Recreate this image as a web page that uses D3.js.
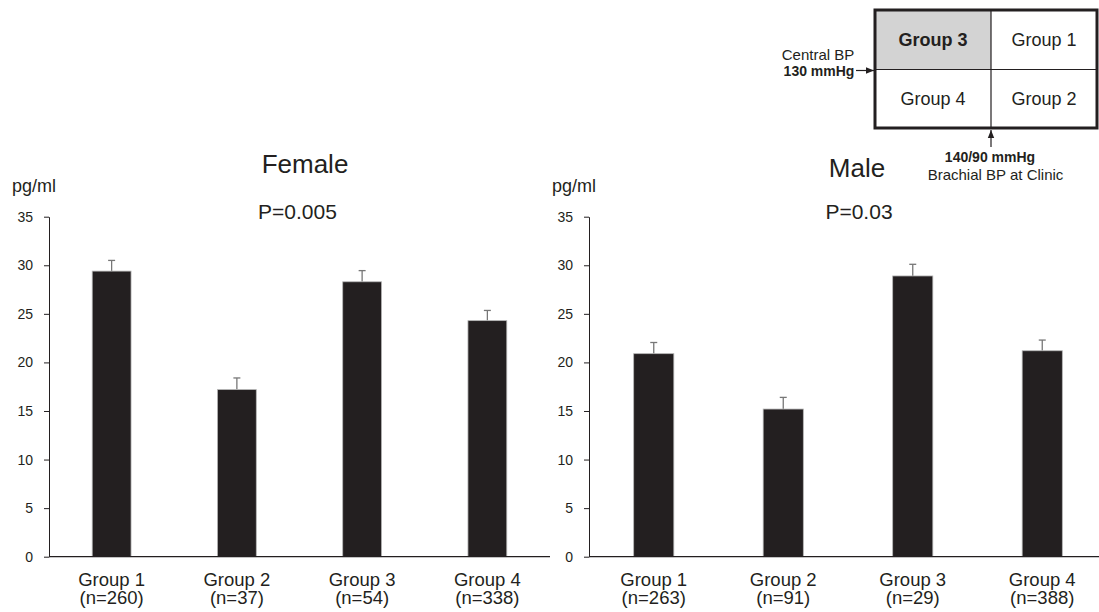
<html>
<head>
	<script src="https://d3js.org/d3.v7.min.js"></script>
	<style>
		body{ margin: 0; background: #fff; }
		text{ font-family: "Liberation Sans", Arial, sans-serif; fill: #231f20; }
		.axis path, .axis line{ stroke: #231f20; }
		.axis text{ font-size: 14px; }
	</style>
</head>
<body>
	<script>

var width = 1099,
	height = 612;

// data
var groups = ["Group 1", "Group 2", "Group 3", "Group 4"];
var femaleN = [260, 37, 54, 338];
var femaleMean = [29.4, 17.2, 28.3, 24.3];
var femaleErr = [1.1, 1.2, 1.15, 1.05];
var maleN = [263, 91, 29, 388];
var maleMean = [20.9, 15.2, 28.9, 21.2];
var maleErr = [1.15, 1.2, 1.2, 1.1];
var yTicks = [0, 5, 10, 15, 20, 25, 30, 35];
var gridLabels = [["Group 3", "Group 1"], ["Group 4", "Group 2"]];

var svg = d3.select( "body" )
	.append( "svg" )
	.attr( "width", width )
	.attr( "height", height );

var y = d3.scaleLinear()
	.domain( [0, 35] )
	.range( [556.7, 216.7] );

function panel(opt){
	var g = svg.append( "g" );
	var x = d3.scaleBand()
		.domain( groups )
		.range( [opt.x0, opt.x1] )
		.paddingInner( 0.69 )
		.paddingOuter( 0.345 );

	var rows = groups.map(function(d, i){
		return {group: d, n: opt.n[i], mean: opt.mean[i], err: opt.err[i]};
	});

	// y axis
	g.append( "g" )
		.attr( "class", "axis" )
		.attr( "transform", "translate(" + opt.x0 + ",0)" )
		.call( d3.axisLeft(y).tickValues(yTicks).tickSize(5).tickSizeOuter(0).tickPadding(11) )
		.call(function(a){ a.selectAll("text").attr("fill", "#231f20"); });

	// error bars
	rows.forEach(function(d){
		var cx = x(d.group) + x.bandwidth() / 2;
		g.append( "line" )
			.attr( "x1", cx ).attr( "x2", cx )
			.attr( "y1", y(d.mean) ).attr( "y2", y(d.mean + d.err) )
			.attr( "stroke", "#777" ).attr( "stroke-width", 1.3 );
		g.append( "line" )
			.attr( "x1", cx - 3.5 ).attr( "x2", cx + 3.5 )
			.attr( "y1", y(d.mean + d.err) ).attr( "y2", y(d.mean + d.err) )
			.attr( "stroke", "#777" ).attr( "stroke-width", 1.3 );
	});

	// bars
	g.selectAll( "rect" )
		.data( rows )
		.enter()
		.append( "rect" )
		.attr( "x", function(d){ return x(d.group); } )
		.attr( "y", function(d){ return y(d.mean); } )
		.attr( "width", x.bandwidth() )
		.attr( "height", function(d){ return y(0) - y(d.mean); } )
		.attr( "fill", "#231f20" )
		.attr( "stroke", "#b5b5b5" )
		.attr( "stroke-width", 0.8 );

	// x axis line
	g.append( "line" )
		.attr( "x1", opt.x0 ).attr( "x2", opt.x1 )
		.attr( "y1", y(0) ).attr( "y2", y(0) )
		.attr( "stroke", "#231f20" ).attr( "stroke-width", 1.2 );

	// category labels
	var lab = g.selectAll( ".cat" )
		.data( rows )
		.enter()
		.append( "text" )
		.attr( "class", "cat" )
		.attr( "text-anchor", "middle" )
		.style( "font-size", "18.5px" );
	lab.append( "tspan" )
		.attr( "x", function(d){ return x(d.group) + x.bandwidth() / 2; } )
		.attr( "y", 585.5 )
		.text( function(d){ return d.group; } );
	lab.append( "tspan" )
		.attr( "x", function(d){ return x(d.group) + x.bandwidth() / 2; } )
		.attr( "y", 603.5 )
		.text( function(d){ return "(n=" + d.n + ")"; } );

	g.append( "text" )
		.attr( "x", opt.x0 - 37 ).attr( "y", 192 )
		.style( "font-size", "18px" )
		.text( "pg/ml" );
	g.append( "text" )
		.attr( "x", opt.titleX ).attr( "y", opt.titleY )
		.attr( "text-anchor", "middle" )
		.style( "font-size", "26px" )
		.text( opt.title );
	g.append( "text" )
		.attr( "x", opt.pX ).attr( "y", 218.5 )
		.attr( "text-anchor", "middle" )
		.style( "font-size", "21px" )
		.text( opt.p );
}

panel({x0: 49, x1: 550, n: femaleN, mean: femaleMean, err: femaleErr,
	title: "Female", titleX: 305, titleY: 173, p: "P=0.005", pX: 297.5});
panel({x0: 589, x1: 1107, n: maleN, mean: maleMean, err: maleErr,
	title: "Male", titleX: 857, titleY: 176.5, p: "P=0.03", pX: 859});

// classification grid, top right
var grid = svg.append( "g" );
var gx = d3.scaleLinear().domain( [0, 2] ).range( [875, 1097] ),
	gy = d3.scaleLinear().domain( [0, 2] ).range( [10, 128] );
var midX = 991, midY = 69.5;
var colX = [875, midX, 1097], rowY = [10, midY, 128];

grid.append( "rect" )
	.attr( "x", colX[0] ).attr( "y", rowY[0] )
	.attr( "width", colX[1] - colX[0] ).attr( "height", rowY[1] - rowY[0] )
	.attr( "fill", "#d3d3d3" );

gridLabels.forEach(function(row, r){
	row.forEach(function(label, c){
		grid.append( "text" )
			.attr( "x", (colX[c] + colX[c + 1]) / 2 )
			.attr( "y", (rowY[r] + rowY[r + 1]) / 2 + 6.5 )
			.attr( "text-anchor", "middle" )
			.style( "font-size", "18px" )
			.style( "font-weight", r === 0 && c === 0 ? "bold" : "normal" )
			.text( label );
	});
});

grid.append( "line" )
	.attr( "x1", midX ).attr( "x2", midX ).attr( "y1", rowY[0] ).attr( "y2", rowY[2] )
	.attr( "stroke", "#231f20" ).attr( "stroke-width", 1.2 );
grid.append( "line" )
	.attr( "x1", colX[0] ).attr( "x2", colX[2] ).attr( "y1", midY ).attr( "y2", midY )
	.attr( "stroke", "#231f20" ).attr( "stroke-width", 1.2 );
grid.append( "rect" )
	.attr( "x", colX[0] ).attr( "y", rowY[0] )
	.attr( "width", colX[2] - colX[0] ).attr( "height", rowY[2] - rowY[0] )
	.attr( "fill", "none" ).attr( "stroke", "#231f20" ).attr( "stroke-width", 3 );

// arrows
svg.append( "defs" ).append( "marker" )
	.attr( "id", "arr" )
	.attr( "viewBox", "0 0 10 10" )
	.attr( "refX", 10 ).attr( "refY", 5 )
	.attr( "markerWidth", 7 ).attr( "markerHeight", 7 )
	.attr( "orient", "auto" )
	.append( "path" )
	.attr( "d", "M0,1L10,5L0,9z" )
	.attr( "fill", "#231f20" );

grid.append( "line" )
	.attr( "x1", 856 ).attr( "x2", 874 ).attr( "y1", 70.5 ).attr( "y2", 70.5 )
	.attr( "stroke", "#231f20" ).attr( "stroke-width", 1.2 )
	.attr( "marker-end", "url(#arr)" );
grid.append( "line" )
	.attr( "x1", midX ).attr( "x2", midX ).attr( "y1", 147 ).attr( "y2", 130 )
	.attr( "stroke", "#231f20" ).attr( "stroke-width", 1.2 )
	.attr( "marker-end", "url(#arr)" );

grid.append( "text" )
	.attr( "x", 818 ).attr( "y", 59.5 )
	.attr( "text-anchor", "middle" )
	.style( "font-size", "15px" )
	.text( "Central BP" );
grid.append( "text" )
	.attr( "x", 819 ).attr( "y", 76 )
	.attr( "text-anchor", "middle" )
	.style( "font-size", "14px" ).style( "font-weight", "bold" )
	.text( "130 mmHg" );
grid.append( "text" )
	.attr( "x", 990 ).attr( "y", 162 )
	.attr( "text-anchor", "middle" )
	.style( "font-size", "14px" ).style( "font-weight", "bold" )
	.text( "140/90 mmHg" );
grid.append( "text" )
	.attr( "x", 995.5 ).attr( "y", 179.5 )
	.attr( "text-anchor", "middle" )
	.style( "font-size", "15px" )
	.text( "Brachial BP at Clinic" );
	</script>
</body>
</html>
